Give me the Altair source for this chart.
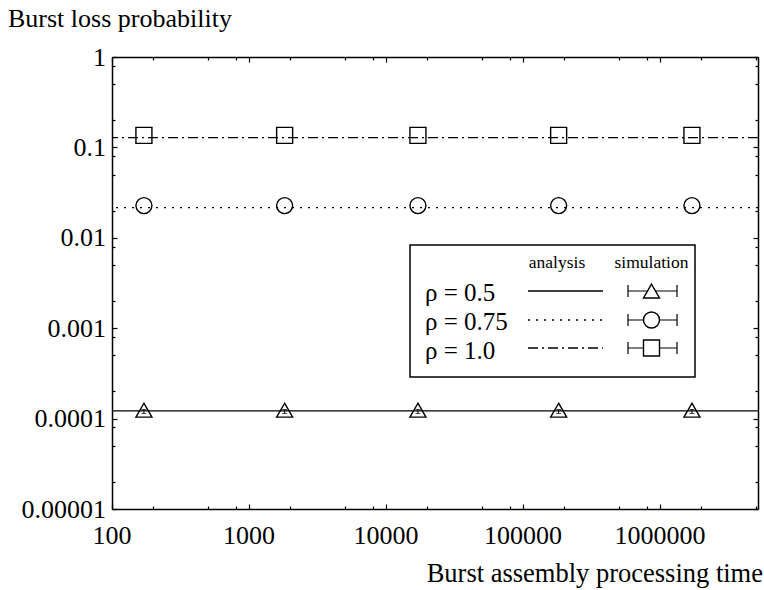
import altair as alt
import pandas as pd

# ---------------- data ----------------
series = ["ρ = 0.5", "ρ = 0.75", "ρ = 1.0"]
shapes = ["triangle-up", "circle", "square"]
dashes = [[1, 0], [2, 6], [10, 4, 2, 4]]

analysis = [1.22e-4, 0.0216, 0.128]          # analytic burst loss probability

x_sim = [171, 1820, 17100, 182000, 1710000]   # burst assembly processing time
sim_05 = [1.24e-4, 1.24e-4, 1.24e-4, 1.24e-4, 1.24e-4]
sim_075 = [0.0227, 0.0227, 0.0227, 0.0227, 0.0227]
sim_10 = [0.1357, 0.1357, 0.1357, 0.1357, 0.1357]
# confidence interval visible only for rho = 0.5 (others hidden in markers)
lo_05 = [1.14e-4, 1.14e-4, 1.14e-4, 1.14e-4, 1.14e-4]
hi_05 = [1.26e-4, 1.26e-4, 1.26e-4, 1.26e-4, 1.26e-4]

x_major = [100, 1000, 10000, 100000, 1000000]
x_labels = ["100", "1000", "10000", "100000", "1000000"]
x_minor = [200, 500, 800, 2000, 5000, 8000, 20000, 50000, 80000,
           200000, 500000, 800000, 2000000, 5000000]
y_major = [1e-5, 1e-4, 1e-3, 1e-2, 1e-1, 1]
y_labels = ["0.00001", "0.0001", "0.001", "0.01", "0.1", "1"]
y_minor = [2e-5, 5e-5, 8e-5, 2e-4, 5e-4, 8e-4, 2e-3, 5e-3, 8e-3,
           2e-2, 5e-2, 8e-2, 2e-1, 5e-1, 8e-1]
x_domain = [100, 5.19e6]
y_domain = [1e-5, 1]

x_title = "Burst assembly processing time"
y_title = "Burst loss probability"
legend_head = ["analysis", "simulation"]

# ---------------- layout ----------------
W, H = 646, 452
FONT = "Liberation Serif"

rows = []
for s, sims in zip(series, [sim_05, sim_075, sim_10]):
    for xv, yv in zip(x_sim, sims):
        rows.append({"series": s, "x": xv, "y": yv})
sim_df = pd.DataFrame(rows)
err_df = pd.DataFrame({"x": x_sim, "lo": lo_05, "hi": hi_05})
ana_df = pd.DataFrame({"series": series, "value": analysis})
one_df = pd.DataFrame({"k": [0]})   # single row for decorations
xlab_df = pd.DataFrame({"v": x_major, "t": x_labels})
ylab_df = pd.DataFrame({"v": y_major, "t": y_labels})

xs = alt.Scale(type="log", domain=x_domain, nice=False)
ys = alt.Scale(type="log", domain=y_domain, nice=False)
shape_scale = alt.Scale(domain=series, range=shapes)
dash_scale = alt.Scale(domain=series, range=dashes)


def axis_layer(ax_x, ax_y):
    return alt.Chart(one_df).mark_point(opacity=0).encode(
        x=alt.X("xv:Q", scale=xs, axis=ax_x),
        y=alt.Y("yv:Q", scale=ys, axis=ax_y),
    ).transform_calculate(xv="1000", yv="0.01")


tick_common = dict(labels=False, grid=False, title=None, tickColor="black",
                   tickWidth=1.2)

# frame: bottom / left domain lines
ax_main = axis_layer(
    alt.Axis(orient="bottom", values=x_major, ticks=False, labels=False,
             domain=True, domainColor="black", domainWidth=1.5, grid=False,
             title=None),
    alt.Axis(orient="left", values=y_major, ticks=False, labels=False,
             domain=True, domainColor="black", domainWidth=1.5, grid=False,
             title=None),
)
# inward major ticks on bottom / left
ax_in_major = axis_layer(
    alt.Axis(orient="top", offset=-H, values=x_major, domain=False,
             tickSize=5, **tick_common),
    alt.Axis(orient="right", offset=-W, values=y_major, domain=False,
             tickSize=5, **tick_common),
)
# inward minor ticks on bottom / left
ax_in_minor = axis_layer(
    alt.Axis(orient="top", offset=-H, values=x_minor, domain=False,
             tickSize=3, **tick_common),
    alt.Axis(orient="right", offset=-W, values=y_minor, domain=False,
             tickSize=3, **tick_common),
)
# top / right frame with inward major ticks
ax_out_major = axis_layer(
    alt.Axis(orient="bottom", offset=-H, values=x_major, domain=True,
             domainColor="black", domainWidth=1.5, tickSize=5, **tick_common),
    alt.Axis(orient="left", offset=-W, values=y_major, domain=True,
             domainColor="black", domainWidth=1.5, tickSize=5, **tick_common),
)
ax_out_minor = axis_layer(
    alt.Axis(orient="bottom", offset=-H, values=x_minor, domain=False,
             tickSize=3, **tick_common),
    alt.Axis(orient="left", offset=-W, values=y_minor, domain=False,
             tickSize=3, **tick_common),
)

# tick labels as text placed through the scales
xlab = alt.Chart(xlab_df).mark_text(
    font=FONT, fontSize=26, fontWeight="normal", color="black",
    align="center", baseline="alphabetic").encode(
    x=alt.X("v:Q", scale=xs, axis=None),
    y=alt.value(H + 35),
    text="t:N",
)
ylab = alt.Chart(ylab_df).mark_text(
    font=FONT, fontSize=26, fontWeight="normal", color="black",
    align="right", baseline="alphabetic", dy=8.5).encode(
    y=alt.Y("v:Q", scale=ys, axis=None),
    x=alt.value(-6),
    text="t:N",
)
xtitle = alt.Chart(one_df).mark_text(
    font=FONT, fontSize=26.5, fontWeight="normal", color="black",
    align="right", baseline="alphabetic", text=x_title).encode(
    x=alt.value(W + 5), y=alt.value(H + 73))
ytitle = alt.Chart(one_df).mark_text(
    font=FONT, fontSize=26, fontWeight="normal", color="black",
    align="left", baseline="alphabetic", text=y_title).encode(
    x=alt.value(-104), y=alt.value(-30))

# analytic lines (full width)
lines = alt.Chart(ana_df).mark_rule(color="black", strokeWidth=1.3).encode(
    y=alt.Y("value:Q", scale=ys, axis=None),
    strokeDash=alt.StrokeDash("series:N", scale=dash_scale, legend=None),
)

# simulation error bars + markers
err = alt.Chart(err_df).mark_rule(color="black", strokeWidth=1).encode(
    x=alt.X("x:Q", scale=xs, axis=None),
    y=alt.Y("lo:Q", scale=ys, axis=None),
    y2="hi:Q",
)
err_caps_lo = alt.Chart(err_df).mark_tick(
    color="black", orient="horizontal", size=5, thickness=1).encode(
    x=alt.X("x:Q", scale=xs, axis=None),
    y=alt.Y("lo:Q", scale=ys, axis=None),
)
err_caps_hi = alt.Chart(err_df).mark_tick(
    color="black", orient="horizontal", size=5, thickness=1).encode(
    x=alt.X("x:Q", scale=xs, axis=None),
    y=alt.Y("hi:Q", scale=ys, axis=None),
)
markers = alt.Chart(sim_df).mark_point(
    filled=False, size=256, color="black", strokeWidth=1.4, opacity=1).encode(
    x=alt.X("x:Q", scale=xs, axis=None),
    y=alt.Y("y:Q", scale=ys, axis=None),
    shape=alt.Shape("series:N", scale=shape_scale, legend=None),
)

# ---------------- hand-drawn legend box ----------------
LX0, LX1, LY0, LY1 = 298, 583, 188, 320
legend_layers = [
    alt.Chart(one_df).mark_rect(fill="white", stroke="black", strokeWidth=1.5)
    .encode(x=alt.value(LX0), x2=alt.value(LX1), y=alt.value(LY0),
            y2=alt.value(LY1))
]
head_x = [445, 539.5]
for txt, hx in zip(legend_head, head_x):
    legend_layers.append(
        alt.Chart(one_df).mark_text(font=FONT, fontSize=17.5,
                                    fontWeight="normal", color="black",
                                    align="center", baseline="alphabetic",
                                    text=txt)
        .encode(x=alt.value(hx), y=alt.value(211)))
row_line_y = [234, 263, 291]
row_text_y = [244, 273, 302]
for i, s in enumerate(series):
    legend_layers.append(
        alt.Chart(one_df).mark_text(font=FONT, fontSize=25, fontWeight="normal",
                                    color="black", align="left",
                                    baseline="alphabetic", text=s)
        .encode(x=alt.value(313), y=alt.value(row_text_y[i])))
    legend_layers.append(
        alt.Chart(one_df).mark_rule(color="black", strokeWidth=1.3,
                                    strokeDash=dashes[i])
        .encode(x=alt.value(416), x2=alt.value(491), y=alt.value(row_line_y[i])))
    legend_layers.append(
        alt.Chart(one_df).mark_rule(color="black", strokeWidth=1.2)
        .encode(x=alt.value(516), x2=alt.value(565), y=alt.value(row_line_y[i])))
    for cx in (516, 565):
        legend_layers.append(
            alt.Chart(one_df).mark_rule(color="black", strokeWidth=1.2)
            .encode(x=alt.value(cx), y=alt.value(row_line_y[i] - 6),
                    y2=alt.value(row_line_y[i] + 6)))
    legend_layers.append(
        alt.Chart(one_df).mark_point(shape=shapes[i], filled=True, fill="white",
                                     stroke="black", strokeWidth=1.4,
                                     size=256, opacity=1)
        .encode(x=alt.value(539.5), y=alt.value(row_line_y[i])))

chart = alt.layer(
    ax_main, ax_in_major, ax_in_minor, ax_out_major, ax_out_minor,
    lines, err, err_caps_lo, err_caps_hi, markers,
    xlab, ylab, xtitle, ytitle, *legend_layers
).resolve_axis(x="independent", y="independent").properties(
    width=W, height=H,
    autosize=alt.AutoSizeParams(type="none"),
    padding={"left": 112, "top": 57, "right": 6, "bottom": 590 - 57 - H},
    background="white",
).configure_view(stroke=None)

chart.save("out.html", embed_options={"renderer": "svg", "actions": False})
